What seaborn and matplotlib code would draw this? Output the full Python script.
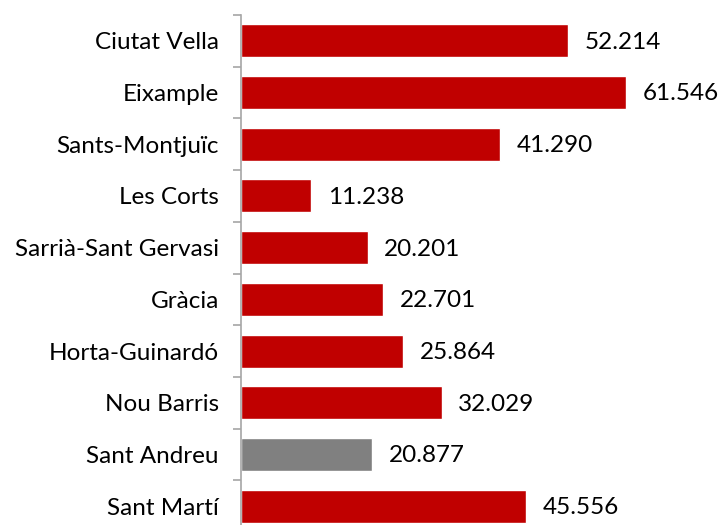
import matplotlib
matplotlib.use("Agg")
import matplotlib.pyplot as plt
import seaborn as sns
import pandas as pd
import numpy as np

districts = ["Ciutat Vella", "Eixample", "Sants-Montjuïc", "Les Corts",
             "Sarrià-Sant Gervasi", "Gràcia", "Horta-Guinardó", "Nou Barris",
             "Sant Andreu", "Sant Martí"]
values = [52214, 61546, 41290, 11238, 20201, 22701, 25864, 32029, 20877, 45556]
labels = ["52.214", "61.546", "41.290", "11.238", "20.201", "22.701",
          "25.864", "32.029", "20.877", "45.556"]
highlight = "Sant Andreu"

df = pd.DataFrame({"district": districts, "value": values})
palette = {d: ("#808080" if d == highlight else "#C00000") for d in districts}

sns.set_style("white")
plt.rcParams["font.family"] = ["Lato", "DejaVu Sans"]

fig = plt.figure(figsize=(7.2, 5.25), dpi=100)
ax = fig.add_axes([241 / 720, -7 / 525, 470 / 720, (532 - 15) / 525])

sns.barplot(data=df, y="district", x="value", hue="district", palette=palette,
            order=districts, hue_order=districts, width=0.64, legend=False,
            saturation=1, ax=ax)

ax.set_xlim(0, 470 / 0.006263)
ax.set_ylim(len(districts) - 0.5, -0.5)
ax.set_xlabel("")
ax.set_ylabel("")
ax.set_xticks([])
for s in ["top", "right", "bottom"]:
    ax.spines[s].set_visible(False)
ax.spines["left"].set_color("#A6A6A6")
ax.spines["left"].set_linewidth(1.2)

ax.tick_params(axis="y", which="major", length=0, pad=16, labelsize=17.5,
               labelcolor="#000000")
ax.set_yticks(np.arange(len(districts) + 1) - 0.5, minor=True)
ax.tick_params(axis="y", which="minor", left=True, length=6, color="#A6A6A6",
               width=1.2)

for i, (v, lab) in enumerate(zip(values, labels)):
    ax.annotate(lab, xy=(v, i), xytext=(12, -1), textcoords="offset points",
                va="center", ha="left", fontsize=17.5, color="#000000")

fig.savefig("out.png", dpi=100)
